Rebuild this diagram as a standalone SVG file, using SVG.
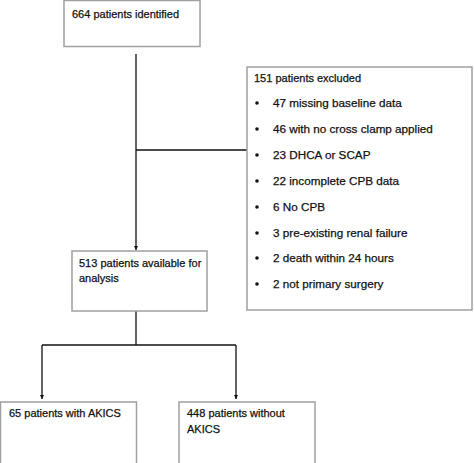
<svg xmlns="http://www.w3.org/2000/svg" width="474" height="463" viewBox="0 0 474 463">
<style>
.box{fill:#fff;stroke:#a0a0a0;stroke-width:1.5}
.t{font-family:"Liberation Sans",Arial,sans-serif;font-size:11px;fill:#111;stroke:#111;stroke-width:0.25}
.b{font-size:11.7px}
.d{fill:#111}
.c{fill:none;stroke:#111;stroke-width:1.3}
</style>
<defs>
<marker id="ah" viewBox="0 0 10 10" refX="10" refY="5" markerWidth="4" markerHeight="4" orient="auto" markerUnits="userSpaceOnUse">
<path d="M0,0 L10,5 L0,10 z" fill="#111"/>
</marker>
</defs>
<rect width="474" height="463" fill="#fff"/>
<g id="connectors">
<path class="c" d="M136,54 V250" marker-end="url(#ah)"/>
<path class="c" d="M136,150 H247"/>
<path class="c" d="M136,311 V345"/>
<path class="c" d="M42,345 H236"/>
<path class="c" d="M42,345 V399" marker-end="url(#ah)"/>
<path class="c" d="M236,345 V399" marker-end="url(#ah)"/>
</g>
<g id="identified">
<rect class="box" x="64" y="0.5" width="136" height="46"/>
<text class="t" x="72" y="18">664 patients identified</text>
</g>
<g id="excluded">
<rect class="box" x="247" y="67" width="225" height="243"/>
<text class="t" x="254" y="82">151 patients excluded</text>
<circle class="d" cx="257" cy="103" r="1.8"/><text class="t b" x="273" y="107">47 missing baseline data</text>
<circle class="d" cx="257" cy="129" r="1.8"/><text class="t b" x="273" y="133">46 with no cross clamp applied</text>
<circle class="d" cx="257" cy="155" r="1.8"/><text class="t b" x="273" y="159">23 DHCA or SCAP</text>
<circle class="d" cx="257" cy="181" r="1.8"/><text class="t b" x="273" y="185">22 incomplete CPB data</text>
<circle class="d" cx="257" cy="207" r="1.8"/><text class="t b" x="273" y="211">6 No CPB</text>
<circle class="d" cx="257" cy="233" r="1.8"/><text class="t b" x="273" y="237">3 pre-existing renal failure</text>
<circle class="d" cx="257" cy="258" r="1.8"/><text class="t b" x="273" y="262">2 death within 24 hours</text>
<circle class="d" cx="257" cy="284" r="1.8"/><text class="t b" x="273" y="288">2 not primary surgery</text>
</g>
<g id="available">
<rect class="box" x="72" y="251" width="135" height="60"/>
<text class="t" x="79" y="267">513 patients available for</text>
<text class="t" x="79" y="282">analysis</text>
</g>
<g id="akics">
<rect class="box" x="0.5" y="402" width="136" height="70"/>
<text class="t" x="9" y="417">65 patients with AKICS</text>
</g>
<g id="no-akics">
<rect class="box" x="179" y="402" width="136" height="70"/>
<text class="t" x="187" y="417">448 patients without</text>
<text class="t" x="187" y="433">AKICS</text>
</g>
</svg>
